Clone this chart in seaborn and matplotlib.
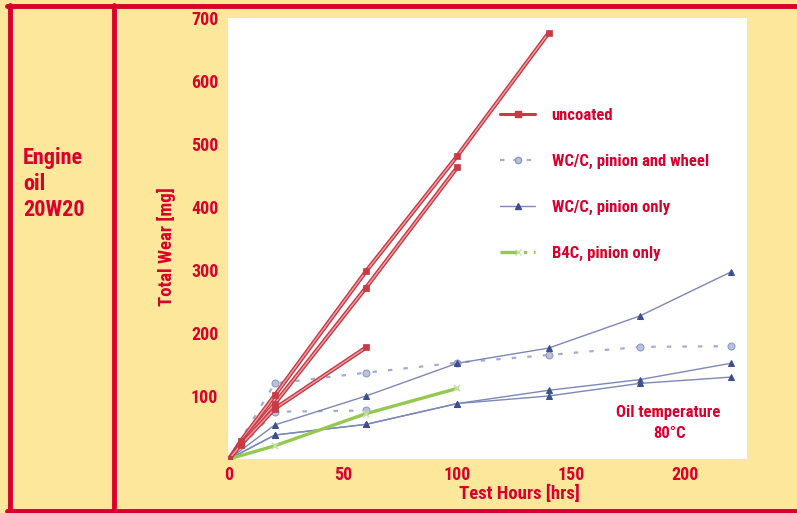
import matplotlib
matplotlib.use("Agg")
import matplotlib.pyplot as plt
import matplotlib.patheffects as pe
from matplotlib.lines import Line2D
from matplotlib import font_manager as fm
import seaborn as sns
import pandas as pd

# ---------------- data ----------------
uncoated_a_h = [0, 5, 20, 60, 100, 140]
uncoated_a_w = [0, 28, 101, 298, 481, 676]
uncoated_b_h = [0, 5, 20, 60, 100]
uncoated_b_w = [0, 24, 88, 272, 463]
uncoated_c_h = [0, 5, 20, 60]
uncoated_c_w = [0, 22, 80, 177]

wc_pw_a_h = [0, 20, 60, 100, 140, 180, 220]
wc_pw_a_w = [0, 120, 137, 153, 165, 178, 179]
wc_pw_b_h = [0, 20, 60]
wc_pw_b_w = [0, 75, 77]

wc_p_a_h = [0, 20, 60, 100, 140, 180, 220]
wc_p_a_w = [0, 54, 100, 152, 176, 227, 297]
wc_p_b_h = [0, 20, 60, 100, 140, 180, 220]
wc_p_b_w = [0, 38, 55, 88, 109, 126, 152]
wc_p_c_h = [0, 20, 60, 100, 140, 180, 220]
wc_p_c_w = [0, 38, 55, 88, 100, 120, 130]

b4c_h = [0, 20, 60, 100]
b4c_w = [0, 21, 72, 112]

legend_labels = ["uncoated", "WC/C, pinion and wheel", "WC/C, pinion only", "B4C, pinion only"]
x_ticks = [0, 50, 100, 150, 200]
y_ticks = [100, 200, 300, 400, 500, 600, 700]

# ---------------- style ----------------
sns.set_theme(style="white")
avail = {f.name for f in fm.fontManager.ttflist}
prefs = ["Roboto Condensed", "Liberation Sans Narrow", "Barlow Semi Condensed",
         "Asap Condensed", "Liberation Sans"]
fam = [p for p in prefs if p in avail][:1]
plt.rcParams["font.family"] = fam + ["DejaVu Sans"]

RED = "#D8002C"
YEL = "#FCE79A"
C_UNC = "#C83A44"
C_PW = "#A0ACD2"
C_P = "#7C88B8"
C_PM = "#3E4E8E"
C_G = "#94C850"

fig = plt.figure(figsize=(7.97, 5.13), dpi=100)
fig.patch.set_facecolor(YEL)

W, H = 797.0, 513.0
def fx(p): return p / W
def fy(p): return 1 - p / H
fig.add_artist(Line2D([fx(7), 1], [fy(6), fy(6)], color=RED, lw=3.5))
fig.add_artist(Line2D([fx(9.5), fx(9.5)], [fy(5), fy(511)], color=RED, lw=3.5))
fig.add_artist(Line2D([fx(7), 1], [fy(511), fy(511)], color=RED, lw=3.5))
fig.add_artist(Line2D([fx(113.5), fx(113.5)], [fy(5), fy(511)], color=RED, lw=3.5))

ax = fig.add_axes([fx(228), fy(459), (747 - 228) / W, (459 - 18) / H])
ax.set_facecolor("white")
for s in ax.spines.values():
    s.set_visible(False)

def draw(h, w, **kw):
    df = pd.DataFrame({"h": h, "w": w})
    sns.lineplot(data=df, x="h", y="w", ax=ax, sort=False, estimator=None, legend=False, **kw)

unc_fx = [pe.Stroke(linewidth=3.0, foreground=C_UNC), pe.Normal()]
for h, w in [(uncoated_a_h, uncoated_a_w), (uncoated_b_h, uncoated_b_w), (uncoated_c_h, uncoated_c_w)]:
    draw(h, w, color="#EFA0A4", lw=1.0, path_effects=unc_fx, zorder=5)
    draw(h, w, color=C_UNC, lw=0, marker="s", markersize=5, markerfacecolor=C_UNC,
         markeredgecolor=C_UNC, markeredgewidth=0.5, zorder=6)

for h, w in [(wc_pw_a_h, wc_pw_a_w), (wc_pw_b_h, wc_pw_b_w)]:
    draw(h, w, color=C_PW, lw=1.6, dashes=(2, 5), marker="o", markersize=5,
         markerfacecolor="#B8C2DE", markeredgecolor="#8C98C4", zorder=3)

for h, w in [(wc_p_a_h, wc_p_a_w), (wc_p_b_h, wc_p_b_w), (wc_p_c_h, wc_p_c_w)]:
    draw(h, w, color=C_P, lw=1.0, marker="^", markersize=5,
         markerfacecolor=C_PM, markeredgecolor=C_PM, zorder=4)

draw(b4c_h, b4c_w, color=C_G, lw=2.4, marker="x", markersize=4.5,
     markeredgecolor="#C8E0A8", markeredgewidth=1.2, zorder=4)

ax.set_xlim(-0.5, 227)
ax.set_ylim(0, 700)
ax.set_xticks(x_ticks)
ax.set_yticks(y_ticks)
ax.tick_params(axis="both", direction="in", length=6, width=1.2, color="#E6E6E6",
               labelcolor=RED, labelsize=13, pad=7)
ax.tick_params(axis="x", pad=5)
for lab in ax.get_xticklabels() + ax.get_yticklabels():
    lab.set_fontweight("bold")
ax.set_xlabel("Test Hours [hrs]", color=RED, fontsize=13.5, fontweight="bold")
ax.set_ylabel("Total Wear [mg]", color=RED, fontsize=13.5, fontweight="bold")
ax.xaxis.set_label_coords((519 - 228) / 519, (459 - 494) / 441)
ax.xaxis.label.set_va("center")
ax.yaxis.set_label_coords((166 - 228) / 519, (459 - 247) / 441)
ax.yaxis.label.set_va("center")

handles = [
    Line2D([], [], color=C_UNC, lw=2.2, marker="s", markersize=4, markerfacecolor=C_UNC),
    Line2D([], [], color=C_PW, lw=1.6, dashes=(2, 4), marker="o", markersize=4.5,
           markerfacecolor="#B8C2DE", markeredgecolor="#8C98C4"),
    Line2D([], [], color=C_P, lw=1.0, marker="^", markersize=4.5, markerfacecolor=C_PM,
           markeredgecolor=C_PM),
    Line2D([], [], color=C_G, lw=2.4, dashes=(5, 2, 1, 2), marker="x", markersize=4,
           markeredgecolor="#C8E0A8"),
]
leg = ax.legend(handles, legend_labels, loc="upper left", bbox_to_anchor=(fx(500), fy(108)),
                bbox_transform=fig.transFigure, frameon=False, fontsize=12,
                labelspacing=1.85, handlelength=2.1, handletextpad=1.0, borderpad=0,
                borderaxespad=0)
for t in leg.get_texts():
    t.set_color(RED)
    t.set_fontweight("bold")

fig.text(fx(668), fy(413), "Oil temperature", ha="center", va="center",
         color=RED, fontsize=12, fontweight="bold")
fig.text(fx(669), fy(434), "80°C", ha="center", va="center",
         color=RED, fontsize=12, fontweight="bold")
fig.text(fx(23), fy(184), "Engine\noil\n20W20", ha="left", va="center",
         color=RED, fontsize=16, fontweight="bold", linespacing=1.25)

fig.savefig("out.png", dpi=100, facecolor=fig.get_facecolor())
